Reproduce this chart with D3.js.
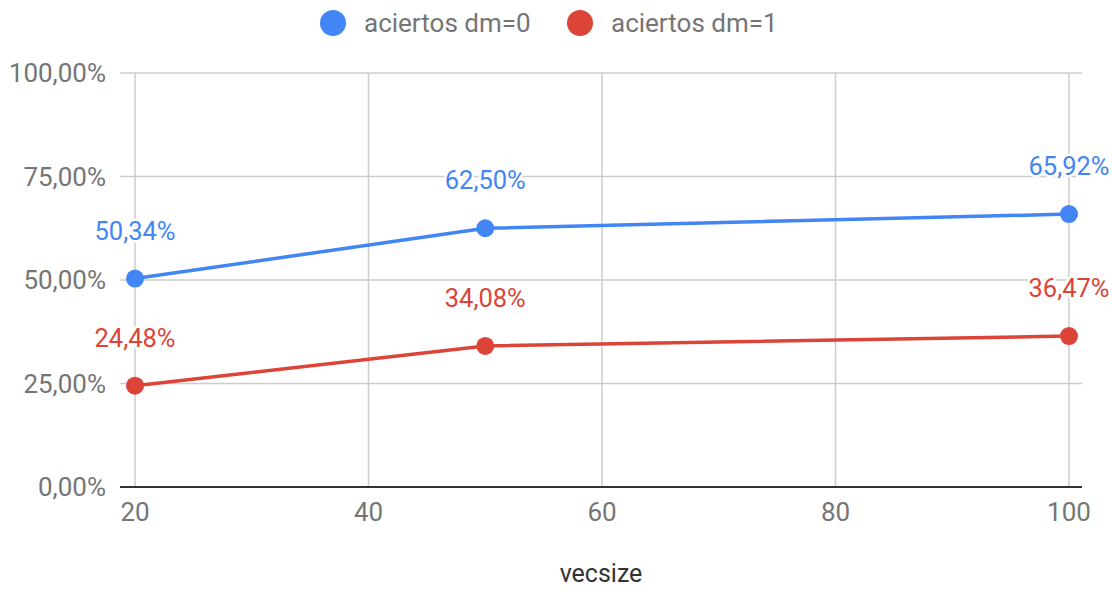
<!DOCTYPE html>
<html><head><meta charset="utf-8">
<script src="https://cdn.jsdelivr.net/npm/d3@7"></script>
<style>body{margin:0;background:#fff}svg{display:block;font-family:Roboto,sans-serif}</style>
</head><body><svg id="c" width="1112" height="590"></svg>
<script>
const categories = [20, 50, 100];
const seriesNames = ["aciertos dm=0", "aciertos dm=1"];
const seriesColors = ["#4285f4", "#db4437"];
const dm0 = [50.34, 62.50, 65.92];
const dm1 = [24.48, 34.08, 36.47];
const yTicks = [0, 25, 50, 75, 100];
const xTicks = [20, 40, 60, 80, 100];
const xTitle = "vecsize";

const svg = d3.select("#c");
const plotL = 120, plotR = 1082, plotT = 73, plotB = 487;
const FS = 26;
const x = d3.scaleLinear().domain([20, 100]).range([135, 1069]);
const y = d3.scaleLinear().domain([0, 100]).range([plotB, plotT]);
const fmt = v => d3.format(".2f")(v).replace(".", ",") + "%";

svg.append("g").selectAll("line").data(yTicks.filter(d => d > 0)).join("line")
  .attr("x1", plotL).attr("x2", plotR).attr("y1", d => y(d)).attr("y2", d => y(d))
  .attr("stroke", "#cccccc").attr("stroke-width", 1.5);
svg.append("g").selectAll("line").data(xTicks).join("line")
  .attr("x1", d => x(d)).attr("x2", d => x(d)).attr("y1", plotT).attr("y2", plotB)
  .attr("stroke", "#cccccc").attr("stroke-width", 1.5);
svg.append("line").attr("x1", plotL).attr("x2", plotR).attr("y1", plotB).attr("y2", plotB)
  .attr("stroke", "#333").attr("stroke-width", 2);

svg.append("g").selectAll("text").data(yTicks).join("text")
  .attr("x", 106).attr("y", d => y(d)).attr("dy", "0.35em").attr("text-anchor", "end")
  .attr("font-size", FS).attr("fill", "#757575").text(d => fmt(d));
svg.append("g").selectAll("text").data(xTicks).join("text")
  .attr("x", d => x(d)).attr("y", 521).attr("text-anchor", "middle")
  .attr("font-size", FS).attr("fill", "#757575").text(d => d);
svg.append("text").attr("x", 601).attr("y", 582).attr("text-anchor", "middle")
  .attr("font-size", 25).attr("fill", "#333").text(xTitle);

const series = [dm0, dm1];
const line = d3.line().x((d, i) => x(categories[i])).y(d => y(d));
series.forEach((vals, s) => {
  const g = svg.append("g");
  g.append("path").datum(vals).attr("d", line).attr("fill", "none")
    .attr("stroke", seriesColors[s]).attr("stroke-width", 3.5);
  g.selectAll("circle").data(vals).join("circle")
    .attr("cx", (d, i) => x(categories[i])).attr("cy", d => y(d)).attr("r", 9)
    .attr("fill", seriesColors[s]);
});
series.forEach((vals, s) => {
  svg.append("g").selectAll("text").data(vals).join("text")
    .attr("x", (d, i) => x(categories[i])).attr("y", d => y(d) - 39)
    .attr("text-anchor", "middle").attr("font-size", 25.5).attr("fill", seriesColors[s])
    .attr("stroke", "#fff").attr("stroke-width", 5).attr("paint-order", "stroke")
    .attr("stroke-linejoin", "round").text(d => fmt(d));
});

const leg = svg.append("g");
const legX = [333, 580];
seriesNames.forEach((n, i) => {
  leg.append("circle").attr("cx", legX[i]).attr("cy", 23).attr("r", 13).attr("fill", seriesColors[i]);
  leg.append("text").attr("x", legX[i] + 31).attr("y", 23).attr("dy", "0.35em")
    .attr("font-size", FS).attr("fill", "#757575").text(n);
});
</script></body></html>
